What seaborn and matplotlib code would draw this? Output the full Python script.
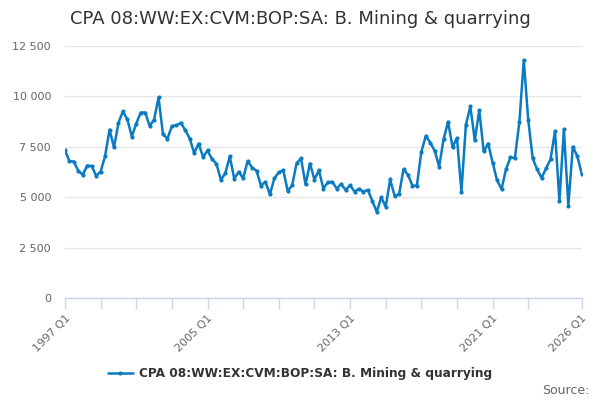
import numpy as np
import pandas as pd
import matplotlib
matplotlib.use("Agg")
import matplotlib.pyplot as plt
import seaborn as sns
from matplotlib.ticker import FixedLocator, FuncFormatter
from matplotlib.lines import Line2D

# ---- data ----
start_year = 1997
values = [
    7320, 6790, 6770, 6300, 6120, 6570, 6540, 6060, 6270, 7040,
    8350, 7470, 8680, 9260, 8860, 8010, 8650, 9200, 9200, 8540,
    8840, 9950, 8130, 7900, 8530, 8560, 8690, 8330, 7910, 7190,
    7660, 6990, 7320, 6890, 6660, 5860, 6190, 7020, 5910, 6260,
    5940, 6790, 6470, 6310, 5580, 5760, 5140, 5930, 6240, 6340,
    5310, 5590, 6690, 6920, 5630, 6670, 5870, 6340, 5430, 5730,
    5760, 5430, 5650, 5360, 5590, 5280, 5410, 5280, 5360, 4810,
    4270, 5000, 4520, 5880, 5070, 5150, 6390, 6110, 5570, 5580,
    7250, 8040, 7710, 7300, 6520, 7880, 8740, 7480, 7940, 5270,
    8590, 9500, 7830, 9320, 7270, 7660, 6720, 5840, 5400, 6380,
    6970, 6940, 8710, 11800, 8830, 6920, 6380, 5950, 6430, 6880,
    8270, 4820, 8360, 4580, 7500, 7050, 6170,
]
quarters = [f"{start_year + i // 4} Q{i % 4 + 1}" for i in range(len(values))]
series_name = "CPA 08:WW:EX:CVM:BOP:SA: B. Mining & quarrying"
labelled_ticks = ["1997 Q1", "2005 Q1", "2013 Q1", "2021 Q1", "2026 Q1"]
y_ticks = [0, 2500, 5000, 7500, 10000, 12500]

df = pd.DataFrame({"idx": np.arange(len(values)), "quarter": quarters, "value": values})

# ---- style ----
sns.set_theme(style="white")
plt.rcParams["font.family"] = ["DejaVu Sans"]
line_color = "#0a7bc1"

fig = plt.figure(figsize=(6, 4), dpi=100)
ax = fig.add_axes([0.1083, 0.255, 0.8612, 0.63])

sns.lineplot(data=df, x="idx", y="value", ax=ax, color=line_color, linewidth=1.8,
             marker="o", markersize=3.0, markeredgewidth=0, legend=False)

n = len(values)
ax.set_xlim(0, n - 1)
ax.set_ylim(0, 12500)

# y axis
ax.yaxis.set_major_locator(FixedLocator(y_ticks))
ax.yaxis.set_major_formatter(FuncFormatter(lambda v, p: f"{int(v):,}".replace(",", " ")))
ax.grid(axis="y", color="#e6e6e6", linewidth=1)
ax.tick_params(axis="y", length=0, labelsize=8, labelcolor="#666666", pad=10)

# x axis
tick_pos = list(range(0, n - 1 - 8, 8)) + [n - 1]
ax.xaxis.set_major_locator(FixedLocator(tick_pos))
lab_idx = {quarters.index(q): q for q in labelled_ticks}
ax.set_xticklabels([lab_idx.get(p, "") for p in tick_pos], rotation=45, ha="right",
                   rotation_mode="anchor")
ax.tick_params(axis="x", length=8, width=1, color="#ccd6eb", labelsize=8,
               labelcolor="#666666", pad=3, direction="out", bottom=True)
ax.grid(axis="x", visible=False)

for s in ["top", "right", "left"]:
    ax.spines[s].set_visible(False)
ax.spines["bottom"].set_color("#ccd6eb")
ax.spines["bottom"].set_linewidth(1)
ax.set_xlabel("")
ax.set_ylabel("")

fig.text(0.5, 0.953, series_name, ha="center", va="center", fontsize=13, color="#333333")

handle = Line2D([], [], color=line_color, linewidth=1.8, marker="o", markersize=3.0,
                markeredgewidth=0)
leg = fig.legend([handle], [series_name], loc="center", bbox_to_anchor=(0.5, 0.065),
                 frameon=False, prop={"weight": "bold", "size": 8.7}, handlelength=2,
                 handletextpad=0.5)
for t in leg.get_texts():
    t.set_color("#333333")

fig.text(0.983, 0.025, "Source:", ha="right", va="center", fontsize=9, color="#666666")

fig.savefig("out.png", dpi=100)
